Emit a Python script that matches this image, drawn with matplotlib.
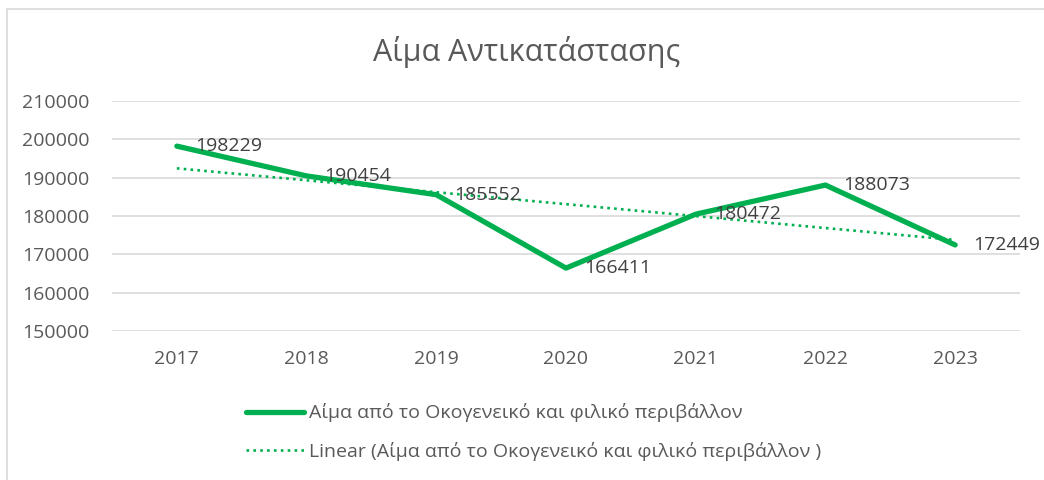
import numpy as np
import matplotlib
matplotlib.use("Agg")
import matplotlib.pyplot as plt
from matplotlib.patches import Rectangle

plt.rcParams['font.family'] = ['Open Sans', 'DejaVu Sans']

# ----- data -----
years = ['2017', '2018', '2019', '2020', '2021', '2022', '2023']
values = [198229, 190454, 185552, 166411, 180472, 188073, 172449]
title = 'Αίμα Αντικατάστασης'
series_name = 'Αίμα από το Οκογενεικό και φιλικό περιβάλλον'
trend_name = 'Linear (Αίμα από το Οκογενεικό και φιλικό περιβάλλον )'
y_ticks = [150000, 160000, 170000, 180000, 190000, 200000, 210000]

green = '#00B050'
text_gray = '#595959'
grid_gray = '#D9D9D9'

W, H = 1044, 480
fig = plt.figure(figsize=(W / 100, H / 100), dpi=100)

# chart border
fig.patches.append(Rectangle((7 / W, -0.1), 1.2, 1 - 9 / H + 0.1,
                             transform=fig.transFigure, fill=False,
                             edgecolor=grid_gray, linewidth=1.2))

ax = fig.add_axes([112 / W, 1 - 331 / H, 908 / W, 230 / H])
x = np.arange(len(years))

# linear trendline (least squares over the series)
coef = np.polyfit(x, values, 1)
ax.plot(x, np.polyval(coef, x), color=green, linewidth=1.9,
        linestyle=(0, (1, 1.6)), label=trend_name, zorder=3)
ax.plot(x, values, color=green, linewidth=3.8, solid_capstyle='round',
        solid_joinstyle='round', label=series_name, zorder=4)

for xi, v in zip(x, values):
    ax.annotate(f'{v}', (xi, v), xytext=(13, 0), textcoords='offset points',
                ha='left', va='center', fontsize=14, color='#404040',
                zorder=5, annotation_clip=False)

ax.set_xlim(-0.5, 6.5)
ax.set_ylim(150000, 210000)
ax.set_yticks(y_ticks)
ax.set_yticklabels([str(t) for t in y_ticks])
ax.set_xticks(x)
ax.set_xticklabels(years)
ax.tick_params(axis='both', length=0, labelsize=14, labelcolor=text_gray)
ax.tick_params(axis='y', pad=16)
ax.tick_params(axis='x', pad=14)
ax.grid(axis='y', color=grid_gray, linewidth=1.2)
ax.set_axisbelow(True)
for s in ax.spines.values():
    s.set_visible(False)

fig.text(527 / W, 1 - 52 / H, title, ha='center', va='center',
         fontsize=22, color=text_gray)

h, l = ax.get_legend_handles_labels()
leg = fig.legend(h[::-1], l[::-1], loc='upper left',
                 bbox_to_anchor=(228 / W, 1 - 386 / H), frameon=False,
                 fontsize=14, handlelength=3.0, handletextpad=0.25,
                 labelspacing=1.0, labelcolor=text_gray)

fig.savefig('out.png', dpi=100)
